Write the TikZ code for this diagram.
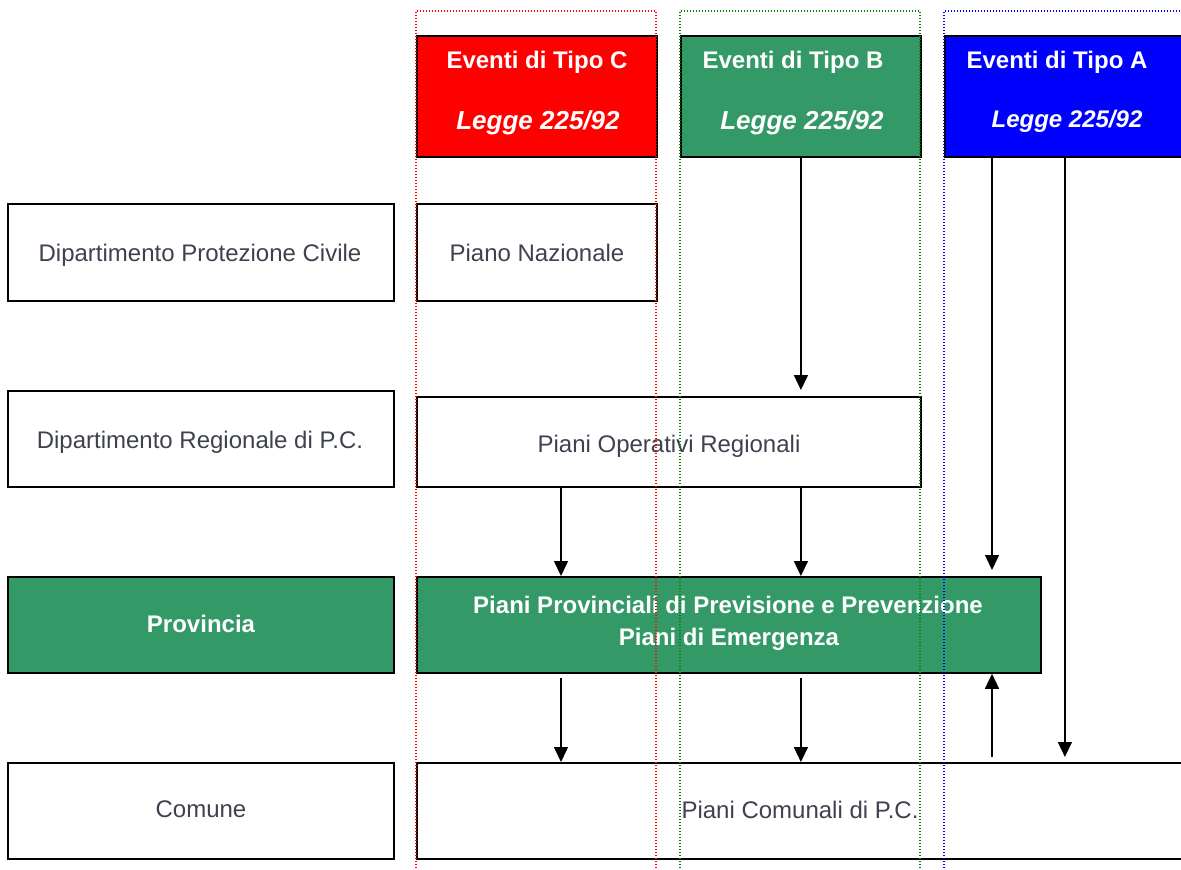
\documentclass[tikz,border=0pt]{standalone}
\usepackage{fontspec}
\setmainfont{Liberation Sans}
\usetikzlibrary{arrows.meta}
\definecolor{tgreen}{RGB}{51,153,102}
\definecolor{tgray}{RGB}{62,66,78}
\definecolor{dotgreen}{RGB}{0,128,0}
\definecolor{dotred}{RGB}{255,0,0}
\definecolor{dotblue}{RGB}{0,0,255}
\begin{document}
\begin{tikzpicture}[x=1pt,y=-1pt,
 box/.style={draw=black,line width=1.8pt,inner sep=0pt,anchor=north west},
 txt/.style={text=tgray,font=\fontsize{24}{28}\selectfont,anchor=base,inner sep=0pt},
 btxt/.style={text=white,font=\fontsize{24}{28}\selectfont\bfseries,anchor=base,inner sep=0pt},
 itxt/.style={text=white,font=\fontsize{26}{30}\selectfont\bfseries\itshape,anchor=base,inner sep=0pt},
 arr/.style={line width=1.5pt,-{Triangle[length=15pt,width=14pt]}},
 guide/.style={line width=1.4pt,dash pattern=on 1.4pt off 1.6pt}]
\useasboundingbox (0,0) rectangle (1181,870);
% left column
\node[box,minimum width=386pt,minimum height=97pt] (dpc) at (7,203) {};
\node[box,minimum width=386pt,minimum height=96pt] (dreg) at (7,390) {};
\node[box,fill=tgreen,minimum width=386pt,minimum height=96pt] (provl) at (7,576) {};
\node[box,minimum width=386pt,minimum height=96pt] (coml) at (7,762) {};
% headers
\node[box,fill=dotred,minimum width=240pt,minimum height=121pt] (hC) at (416,35) {};
\node[box,fill=tgreen,minimum width=240pt,minimum height=121pt] (hB) at (680,35) {};
\node[box,fill=dotblue,minimum width=240pt,minimum height=121pt] (hA) at (944,35) {};
% plans
\node[box,minimum width=240pt,minimum height=97pt] (pn) at (416,203) {};
\node[box,minimum width=504pt,minimum height=90pt] (por) at (416,396) {};
\node[box,fill=tgreen,minimum width=624pt,minimum height=96pt] (prov) at (416,576) {};
\node[box,minimum width=768pt,minimum height=96pt] (com) at (416,762) {};
% texts
\node[txt] (t1) at (200,261) {Dipartimento Protezione Civile};
\node[txt] (t2) at (200,448) {Dipartimento Regionale di P.C.};
\node[btxt] (t3) at (201,632) {Provincia};
\node[txt] (t4) at (201,817) {Comune};
\node[btxt] (tC1) at (537,68) {Eventi di Tipo C};
\node[itxt] (tC2) at (538,129) {Legge 225/92};
\node[btxt] (tB1) at (793,68) {Eventi di Tipo B};
\node[itxt] (tB2) at (802,129) {Legge 225/92};
\node[btxt] (tA1) at (1057,68) {Eventi di Tipo A};
\node[itxt] (tA2) at (1067,127) {\fontsize{24}{28}\selectfont Legge 225/92};
\node[txt] (tpn) at (537,261) {Piano Nazionale};
\node[txt] (tpor) at (669,452) {Piani Operativi Regionali};
\node[btxt] (tpr1) at (728,613) {Piani Provinciali di Previsione e Prevenzione};
\node[btxt] (tpr2) at (729,645) {Piani di Emergenza};
\node[txt] (tcom) at (800,818) {Piani Comunali di P.C.};
% connector columns
\coordinate (c1) at (561,0);
\coordinate (c2) at (992,0);
% arrows
\draw[arr,shorten >=6pt] (hB.south) -- (por.north -| hB.south);
\draw[arr,shorten >=6pt] (hA.south -| c2) -- (prov.north -| c2);
\draw[arr,shorten >=5pt] (hA.south) -- (com.north -| hA.south);
\draw[arr] (por.south -| c1) -- (prov.north -| c1);
\draw[arr] (por.south -| hB.south) -- (prov.north -| hB.south);
\draw[arr,shorten <=4pt] (prov.south -| c1) -- (com.north -| c1);
\draw[arr,shorten <=4pt] (prov.south -| hB.south) -- (com.north -| hB.south);
\draw[arr,shorten <=5pt] (com.north -| c2) -- (prov.south -| c2);
% dotted column guides
\draw[guide,dotred] (416,880) -- (416,11) -- (656,11) -- (656,880);
\draw[guide,dotgreen] (680,880) -- (680,11) -- (920,11) -- (920,880);
\draw[guide,dotblue] (944,880) -- (944,11) -- (1190,11);
\end{tikzpicture}
\end{document}
